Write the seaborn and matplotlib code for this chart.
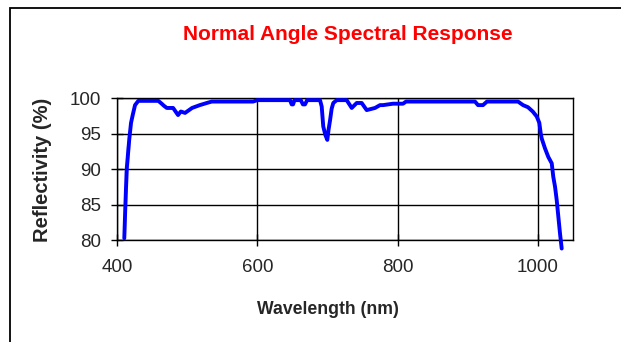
import matplotlib
matplotlib.use("Agg")
import matplotlib.pyplot as plt
import seaborn as sns
import pandas as pd
from matplotlib.patches import Rectangle

# wavelength (nm) and reflectivity (%)
wavelength = [410.4, 410.4, 411.8, 411.8, 413.8, 413.8, 417.5, 417.5, 420.0, 422.4,
              425.7, 430.4, 458.9, 463.7, 467.0, 471.0, 480.0, 487.0, 491.0, 497.0,
              507.0, 518.0, 528.0, 535.0, 594.0, 600.0, 646.6, 649.0, 651.0, 653.0,
              662.0, 665.0, 668.0, 671.0, 689.4, 691.8, 694.0, 697.0, 699.8, 701.5,
              703.6, 706.0, 708.3, 713.2, 727.4, 734.6, 741.7, 748.8, 755.9, 767.8,
              774.9, 779.2, 793.4, 807.7, 812.0, 910.3, 914.6, 921.7, 927.4, 971.6,
              978.8, 985.9, 992.6, 998.3, 1002.0, 1004.0, 1005.4, 1010.1, 1014.8, 1019.7,
              1021.9, 1024.4, 1026.8, 1029.1, 1031.5, 1033.9]
reflectivity = [78.6, 81.9, 82.4, 86.6, 87.0, 92.9, 93.4, 95.0, 96.5, 97.6,
                99.0, 99.6, 99.6, 99.2, 98.9, 98.6, 98.6, 97.6, 98.1, 97.9,
                98.6, 99.0, 99.3, 99.5, 99.5, 99.7, 99.7, 99.1, 99.1, 99.7,
                99.7, 99.1, 99.1, 99.7, 99.7, 98.8, 96.0, 94.8, 94.1, 95.5,
                96.8, 98.5, 99.3, 99.7, 99.7, 98.6, 99.3, 99.3, 98.3, 98.6,
                99.0, 99.0, 99.2, 99.2, 99.5, 99.5, 99.0, 99.0, 99.5, 99.5,
                99.0, 98.7, 98.1, 97.4, 96.5, 95.0, 94.3, 92.9, 91.7, 90.8,
                88.9, 87.5, 85.6, 83.3, 80.9, 78.8]

x_ticks = [400, 600, 800, 1000]
y_ticks = [80, 85, 90, 95, 100]

df = pd.DataFrame({"wavelength": wavelength, "reflectivity": reflectivity})

sns.set_style("white")
plt.rcParams["font.family"] = ["Liberation Sans", "DejaVu Sans"]

fig = plt.figure(figsize=(6.21, 3.42), dpi=100)
ax = fig.add_axes([0.1884, 0.2982, 0.7343, 0.4152])

# outer chart-area frame (only left and top visible in the reference)
fig.patches.append(Rectangle((9.5 / 621, -0.1), 1.2, (334 / 342) + 0.1,
                             transform=fig.transFigure, fill=False,
                             edgecolor="black", linewidth=1.3))

sns.lineplot(data=df, x="wavelength", y="reflectivity", ax=ax, color="#0000ff",
             linewidth=2.8, sort=False, clip_on=False, zorder=5)

ax.set_xlim(400, 1050)
ax.set_ylim(80, 100)
ax.set_xticks(x_ticks)
ax.set_yticks(y_ticks)
ax.grid(True, color="black", linewidth=1.0)
for s in ax.spines.values():
    s.set_color("black")
    s.set_linewidth(1.0)
ax.tick_params(axis="both", direction="inout", length=9, width=1, color="black",
               labelsize=13.5, left=True, bottom=True)
ax.tick_params(axis="y", pad=7)
ax.tick_params(axis="x", pad=9)

ax.set_xlabel("")
ax.set_ylabel("")
fig.text(328 / 621, 1 - 310 / 342, "Wavelength (nm)", fontsize=12.7,
         fontweight="bold", ha="center", va="center")
fig.text(42 / 621, 1 - 170 / 342, "Reflectivity (%)", fontsize=14.5,
         fontweight="bold", ha="center", va="center", rotation=90)
fig.text(348 / 621, 1 - 34 / 342, "Normal Angle Spectral Response", color="red",
         fontsize=15, fontweight="bold", ha="center", va="center")

fig.savefig("out.png", dpi=100)
